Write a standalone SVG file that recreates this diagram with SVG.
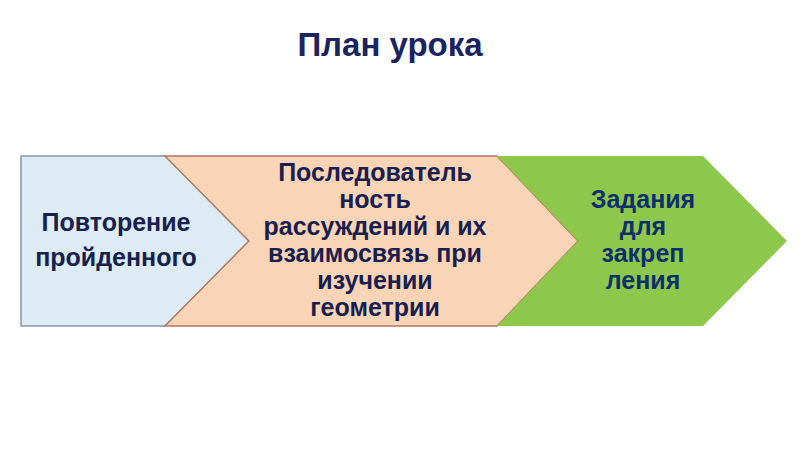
<svg xmlns="http://www.w3.org/2000/svg" width="800" height="450" viewBox="0 0 800 450">
<style>
.t{font-family:"Liberation Sans",Arial,sans-serif;font-weight:bold;text-anchor:middle}
.title{font-size:33px;fill:#1b2360}
.lbl{font-size:25px;fill:#17204e}
.lblg{font-size:25px;fill:#0d2f6b}
</style>
<rect width="800" height="450" fill="#ffffff"/>
<text class="t title" x="390" y="56">План урока</text>
<g id="node-povtorenie">
<polygon points="21,156 165,156 249,241 165,326 21,326" fill="#dcebf4" stroke="#8a97a8" stroke-width="1.5"/>
<text class="t lbl" x="116" y="231">Повторение</text>
<text class="t lbl" x="116" y="266">пройденного</text>
</g>
<g id="node-posledovatelnost">
<polygon points="165,156 497,156 578,241 497,326 165,326 249,241" fill="#fad4b6" stroke="#b5765c" stroke-width="1.3"/>
<text class="t lbl" x="375" y="181">Последователь</text>
<text class="t lbl" x="375" y="208">ность</text>
<text class="t lbl" x="375" y="235">рассуждений и их</text>
<text class="t lbl" x="375" y="262">взаимосвязь при</text>
<text class="t lbl" x="375" y="289">изучении</text>
<text class="t lbl" x="375" y="316">геометрии</text>
</g>
<g id="node-zadaniya">
<polygon points="497,156 703,156 787,241 703,326 497,326 578,241" fill="#8dc74b"/>
<text class="t lblg" x="643" y="208">Задания</text>
<text class="t lblg" x="643" y="235">для</text>
<text class="t lblg" x="643" y="262">закреп</text>
<text class="t lblg" x="643" y="289">ления</text>
</g>
<g id="connectors"></g>
</svg>
